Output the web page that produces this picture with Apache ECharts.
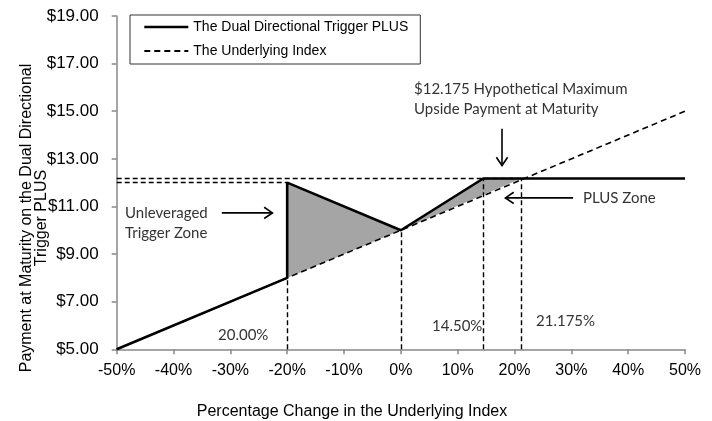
<!DOCTYPE html>
<html>
<head>
<meta charset="utf-8">
<title>Dual Directional Trigger PLUS</title>
<script src="https://cdn.jsdelivr.net/npm/echarts@6/dist/echarts.min.js"></script>
</head>
<body style="margin:0">
<div id="main" style="width:712px;height:421px;"></div>
<script>
// payoff of the note and of the index, x = % change, y = payment ($)
var plusLine = [[-50, 5], [-20, 8], [-20, 12], [0, 10], [14.5, 12.175], [50, 12.175]];
var indexLine = [[-50, 5], [50, 15]];
// gray zones between the two lines
var zones = [
  [[-20, 8], [-20, 12], [0, 10]],
  [[0, 10], [14.5, 12.175], [21.175, 12.175]]
];
// dashed guides: horizontal [level, xEnd], vertical [x, yTop]
var hGuides = [[12, -20], [12.175, 21.175]];
var vGuides = [[-20, 8], [0, 10], [14.5, 12.175], [21.175, 12.175]];
// annotation arrows [x1, y1, x2, y2] (tail -> head)
var arrows = [[-31.5, 10.73, -22.6, 10.73], [17.8, 14.26, 17.8, 12.72], [30.3, 11.36, 18.4, 11.36]];
var xMin = -50, xMax = 50, xStep = 10;
var yMin = 5, yMax = 19, yStep = 2;

var myChart = echarts.init(document.getElementById('main'));

var guideData = [];
hGuides.forEach(function (g) {
  guideData.push([{ coord: [xMin, g[0]] }, { coord: [g[1], g[0]] }]);
});
vGuides.forEach(function (g) {
  guideData.push([{ coord: [g[0], yMin] }, { coord: [g[0], g[1]] }]);
});

var noteFont = { fontFamily: 'Lato', fontSize: 15, fill: '#333' };
function note(x, y, text, align) {
  return {
    type: 'text', left: x, top: y,
    style: Object.assign({ text: text, lineHeight: 20, textAlign: align || 'left' }, noteFont)
  };
}

var option = {
  animation: false,
  grid: { left: 116.7, right: 27, top: 16, bottom: 71.7, outerBoundsMode: 'none' },
  legend: {
    data: [
      { name: 'The Dual Directional Trigger PLUS', lineStyle: { width: 2.6 } },
      { name: 'The Underlying Index', lineStyle: { width: 1.8, type: [6, 4] } }
    ],
    orient: 'vertical',
    left: 130, top: 15,
    padding: [5, 12, 6, 13],
    itemGap: 10,
    itemWidth: 44, itemHeight: 14,
    itemStyle: { opacity: 0 },
    borderColor: '#333', borderWidth: 1,
    textStyle: { fontFamily: 'Liberation Sans', fontSize: 14, color: '#000' }
  },
  xAxis: {
    type: 'value', min: xMin, max: xMax, interval: xStep,
    splitLine: { show: false },
    axisLine: { onZero: false, lineStyle: { color: '#888', width: 1.5 } },
    axisTick: { length: 5, lineStyle: { color: '#888', width: 1.5 } },
    axisLabel: { formatter: '{value}%', margin: 13, fontFamily: 'Liberation Sans', fontSize: 16, color: '#000' }
  },
  yAxis: {
    type: 'value', min: yMin, max: yMax, interval: yStep,
    splitLine: { show: false },
    axisLine: { show: true, onZero: false, lineStyle: { color: '#888', width: 1.5 } },
    axisTick: { show: true, length: 5, lineStyle: { color: '#888', width: 1.5 } },
    axisLabel: {
      formatter: function (v) { return '$' + v.toFixed(2); },
      margin: 18, fontFamily: 'Liberation Sans', fontSize: 17, color: '#000'
    }
  },
  series: [
    {
      name: 'zones', type: 'custom', z: 1, silent: true,
      data: zones.map(function (z, i) { return [z[0][0], z[0][1], i]; }),
      renderItem: function (params, api) {
        var pts = zones[params.dataIndex].map(function (p) { return api.coord(p); });
        return { type: 'polygon', shape: { points: pts }, style: { fill: '#a5a5a5' } };
      }
    },
    {
      name: 'The Underlying Index', type: 'line', z: 3,
      data: indexLine, symbol: 'none',
      lineStyle: { color: '#000', width: 1.6, type: [6, 4] },
      itemStyle: { color: '#000' },
      markLine: {
        silent: true, symbol: 'none', label: { show: false },
        lineStyle: { color: '#000', width: 1.4, type: [5, 3] },
        data: guideData
      }
    },
    {
      name: 'The Dual Directional Trigger PLUS', type: 'line', z: 4,
      data: plusLine, symbol: 'none',
      lineStyle: { color: '#000', width: 2.6 },
      itemStyle: { color: '#000' }
    },
    {
      name: 'arrows', type: 'custom', z: 5, silent: true,
      data: arrows,
      renderItem: function (params, api) {
        var a = api.coord([api.value(0), api.value(1)]);
        var b = api.coord([api.value(2), api.value(3)]);
        var ang = Math.atan2(b[1] - a[1], b[0] - a[0]);
        var L = 10, w = 0.6;
        var h1 = [b[0] - L * Math.cos(ang - w), b[1] - L * Math.sin(ang - w)];
        var h2 = [b[0] - L * Math.cos(ang + w), b[1] - L * Math.sin(ang + w)];
        var st = { stroke: '#000', lineWidth: 1.6, fill: null };
        return {
          type: 'group',
          children: [
            { type: 'line', shape: { x1: a[0], y1: a[1], x2: b[0], y2: b[1] }, style: st },
            { type: 'polyline', shape: { points: [h1, b, h2] }, style: st }
          ]
        };
      }
    }
  ],
  graphic: [
    {
      type: 'text', x: 34, y: 218, rotation: Math.PI / 2,
      style: {
        text: 'Payment at Maturity on the Dual Directional\nTrigger PLUS',
        fontFamily: 'Liberation Sans', fontSize: 16, lineHeight: 15, fill: '#000',
        textAlign: 'center', textVerticalAlign: 'middle'
      }
    },
    {
      type: 'text', x: 352, y: 412,
      style: {
        text: 'Percentage Change in the Underlying Index',
        fontFamily: 'Liberation Sans', fontSize: 16, fill: '#000',
        textAlign: 'center', textVerticalAlign: 'middle'
      }
    },
    note(125, 203, 'Unleveraged\nTrigger Zone'),
    note(414, 79, '$12.175 Hypothetical Maximum\nUpside Payment at Maturity'),
    note(583, 188, 'PLUS Zone'),
    note(218, 325, '20.00%'),
    note(432, 316, '14.50%'),
    note(536, 311, '21.175%')
  ]
};

myChart.setOption(option);
</script>
</body>
</html>
